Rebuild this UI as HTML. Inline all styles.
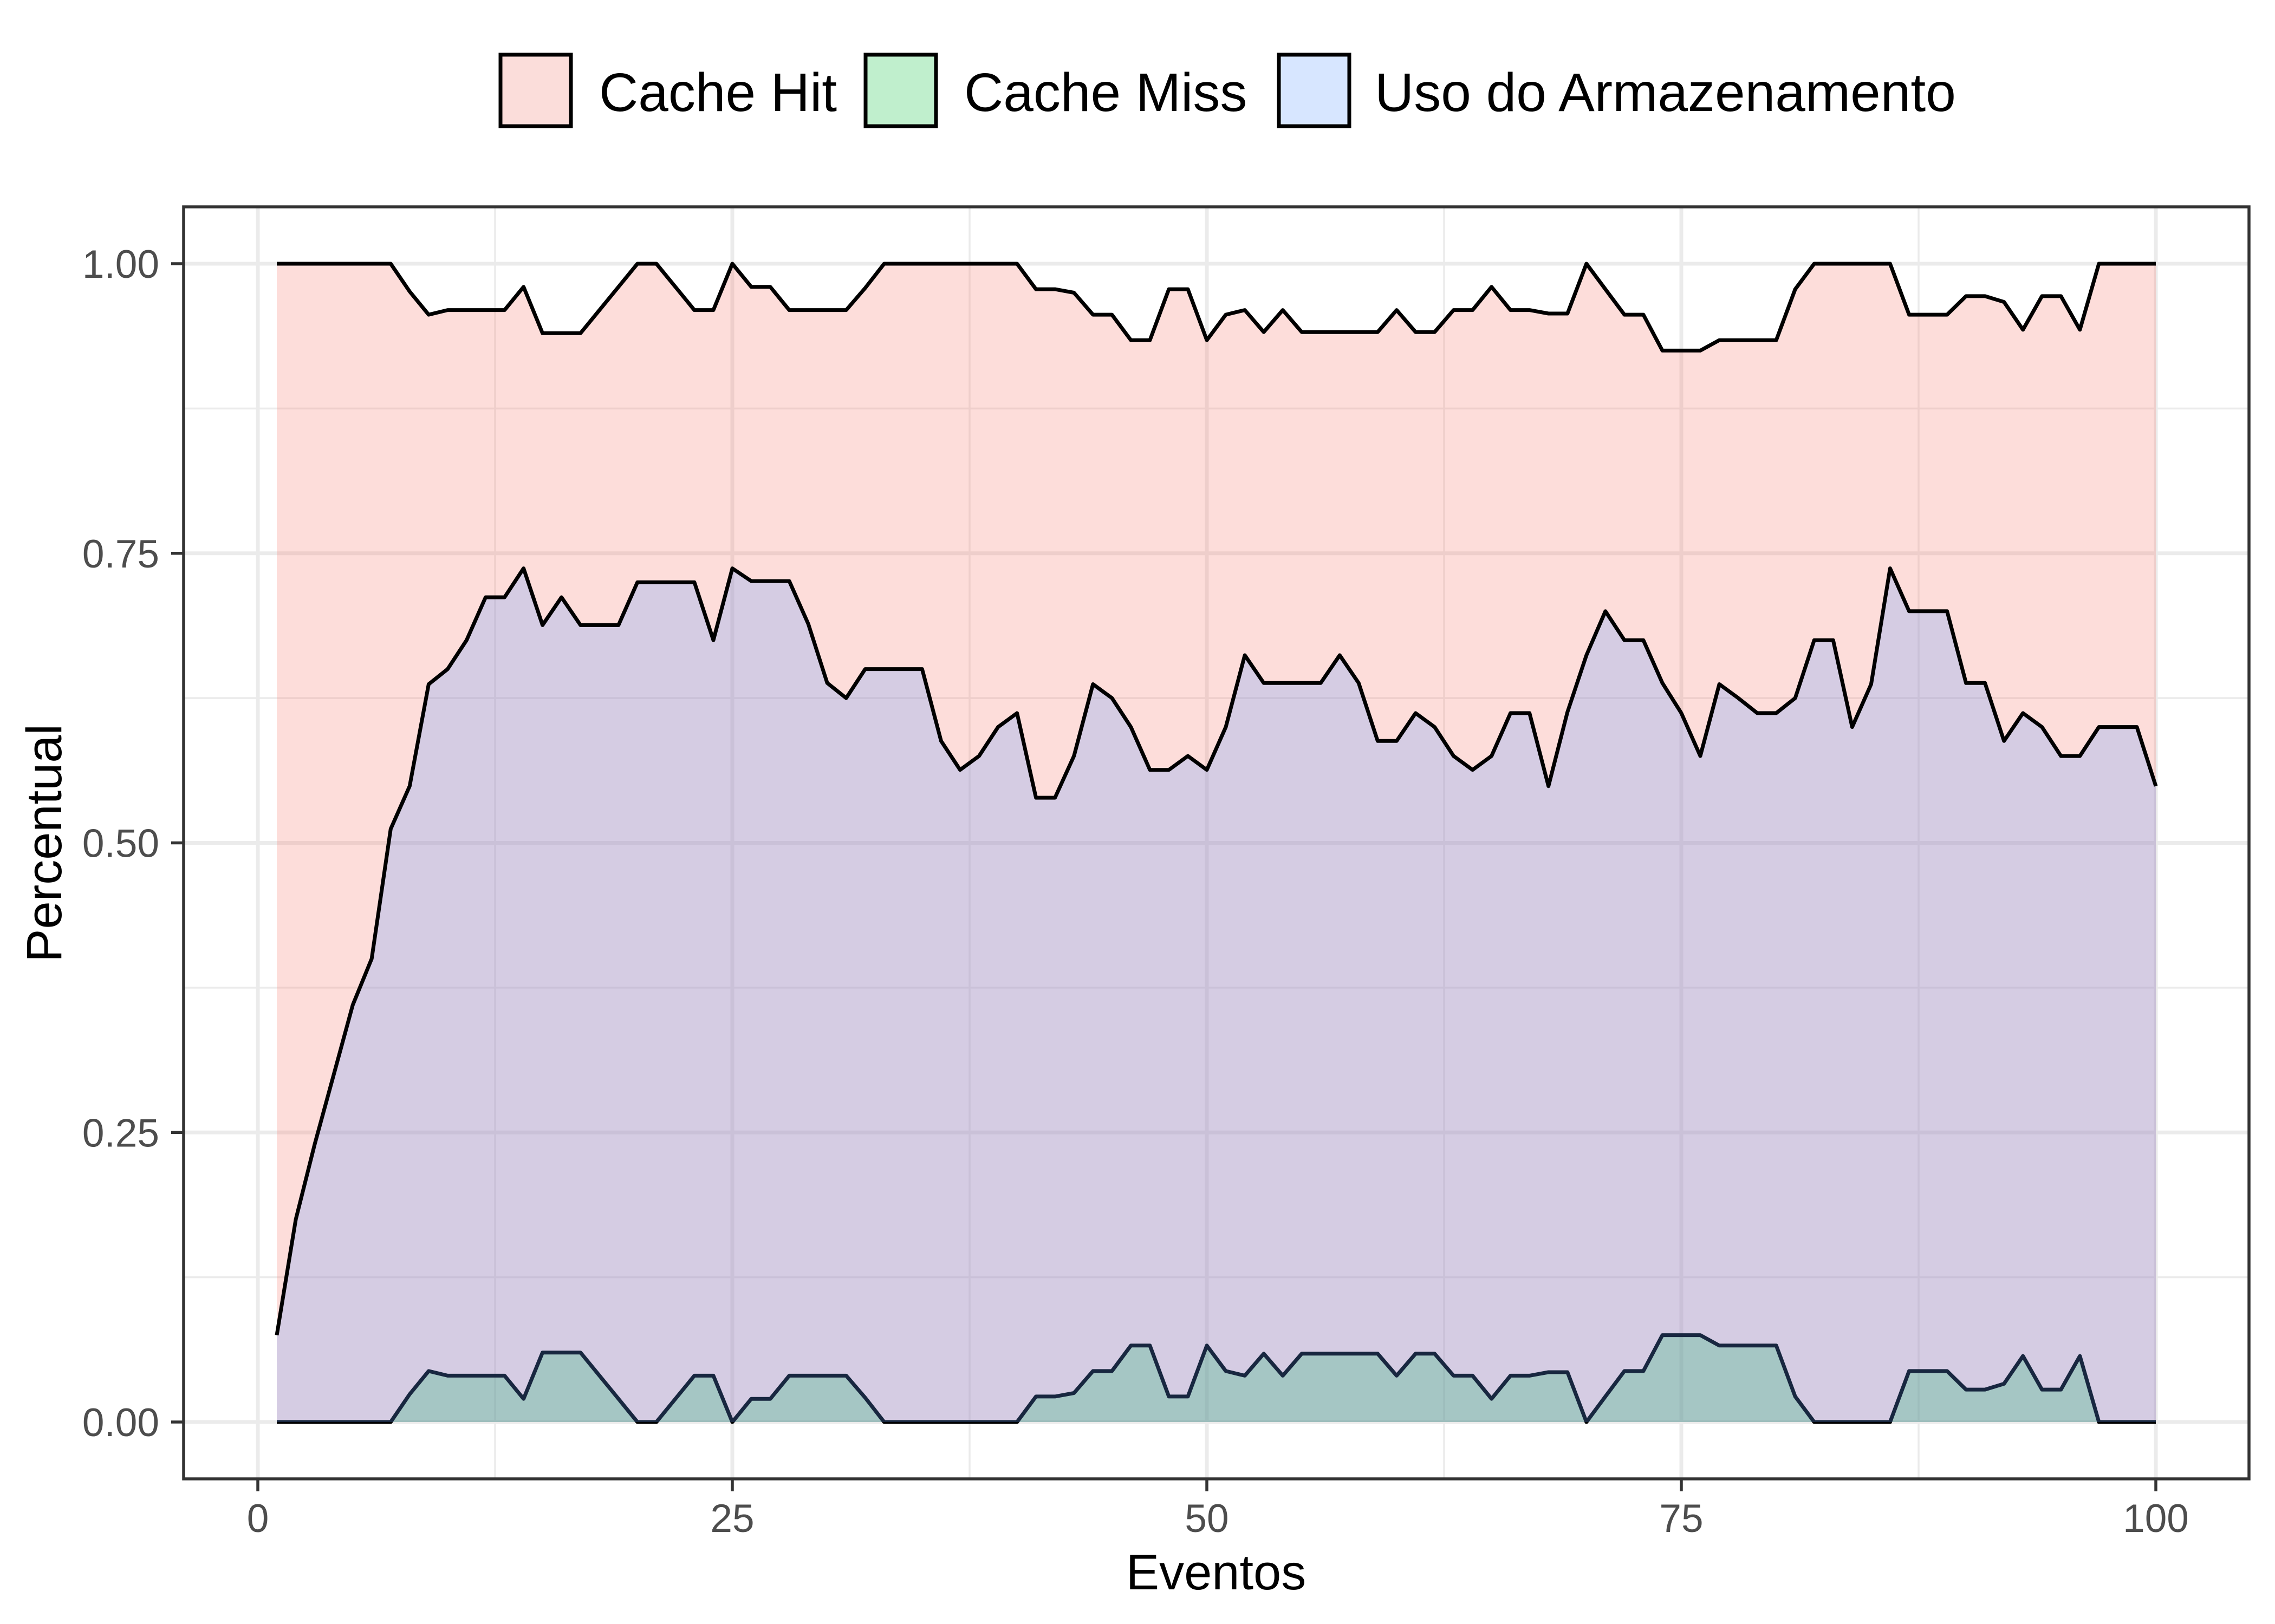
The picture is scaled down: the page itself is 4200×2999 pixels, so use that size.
<!DOCTYPE html>
<html><head><meta charset="utf-8"><style>
html,body{margin:0;padding:0;background:#fff}
svg{display:block}
text{font-family:"Liberation Sans",Arial,sans-serif}
</style></head>
<body>
<svg id="chart" width="4200" height="2999" viewBox="0 0 4200 2999" xmlns="http://www.w3.org/2000/svg">
<rect x="0" y="0" width="4200" height="2999" fill="#fff"/>
<g id="grid"></g>
<g id="areas"></g>
<rect x="339" y="382" width="3813" height="2349" fill="none" stroke="#333" stroke-width="5.5"/>
<g id="axes"></g>
<text x="2245" y="2935" font-size="92" text-anchor="middle" fill="#000">Eventos</text>
<text transform="translate(113,1557) rotate(-90)" font-size="92" text-anchor="middle" fill="#000">Percentual</text>
<g>
  <g>
    <rect x="924" y="101" width="130" height="132" fill="#FBDDDA" stroke="#000" stroke-width="7"/>
    <text x="1106" y="205" font-size="100" fill="#000">Cache Hit</text>
  </g>
  <g>
    <rect x="1598" y="101" width="130" height="132" fill="#C0EFCD" stroke="#000" stroke-width="7"/>
    <text x="1780" y="205" font-size="100" fill="#000">Cache Miss</text>
  </g>
  <g>
    <rect x="2361" y="101" width="130" height="132" fill="#D7E6FF" stroke="#000" stroke-width="7"/>
    <text x="2538" y="205" font-size="100" fill="#000">Uso do Armazenamento</text>
  </g>
</g>
</svg>
<script>
const events = Array.from({length:100},(_,i)=>i+1);
const cacheHit = [1,1,1,1,1,1,1,0.976,0.956,0.96,0.96,0.96,0.96,0.98,0.94,0.94,0.94,0.96,0.98,1,
1,0.98,0.96,0.96,1,0.98,0.98,0.96,0.96,0.96,0.96,0.979,1,1,1,1,1,1,1,1,
0.978,0.978,0.975,0.956,0.956,0.934,0.934,0.978,0.978,0.934,0.956,0.96,0.941,0.96,0.941,0.941,0.941,0.941,0.941,0.96,
0.941,0.941,0.96,0.96,0.98,0.96,0.96,0.957,0.957,1,0.978,0.956,0.956,0.925,0.925,0.925,0.934,0.934,0.934,0.934,
0.978,1,1,1,1,1,0.956,0.956,0.956,0.972,0.972,0.967,0.943,0.972,0.972,0.943,1,1,1,1];
const cacheMiss = [0,0,0,0,0,0,0,0.024,0.044,0.04,0.04,0.04,0.04,0.02,0.06,0.06,0.06,0.04,0.02,0,
0,0.02,0.04,0.04,0,0.02,0.02,0.04,0.04,0.04,0.04,0.021,0,0,0,0,0,0,0,0,
0.022,0.022,0.025,0.044,0.044,0.066,0.066,0.022,0.022,0.066,0.044,0.04,0.059,0.04,0.059,0.059,0.059,0.059,0.059,0.04,
0.059,0.059,0.04,0.04,0.02,0.04,0.04,0.043,0.043,0,0.022,0.044,0.044,0.075,0.075,0.075,0.066,0.066,0.066,0.066,
0.022,0,0,0,0,0,0.044,0.044,0.044,0.028,0.028,0.033,0.057,0.028,0.028,0.057,0,0,0,0];
const storageUse = [0.075,0.175,0.24,0.30,0.36,0.40,0.512,0.549,0.637,0.65,0.675,0.712,0.712,0.737,0.688,0.712,0.688,0.688,0.688,0.725,
0.725,0.725,0.725,0.675,0.737,0.726,0.726,0.726,0.689,0.638,0.625,0.65,0.65,0.65,0.65,0.588,0.563,0.575,0.6,0.612,
0.539,0.539,0.575,0.637,0.625,0.6,0.563,0.563,0.575,0.563,0.6,0.662,0.638,0.638,0.638,0.638,0.662,0.638,0.588,0.588,
0.612,0.6,0.575,0.563,0.575,0.612,0.612,0.549,0.613,0.662,0.7,0.675,0.675,0.638,0.612,0.575,0.637,0.625,0.612,0.612,
0.625,0.675,0.675,0.6,0.637,0.737,0.7,0.7,0.7,0.638,0.638,0.588,0.612,0.6,0.575,0.575,0.6,0.6,0.6,0.549];
const xTicks = [0,25,50,75,100];
const yTicks = [0,0.25,0.5,0.75,1];
const yTickLabels = ["0.00","0.25","0.50","0.75","1.00"];
const xMinor = [12.5,37.5,62.5,87.5];
const yMinor = [0.125,0.375,0.625,0.875];

const NS="http://www.w3.org/2000/svg";
const PL=339, PR=4152, PT=382, PB=2731;
function X(v){return 476 + v*35.04;}
function Y(v){return 2626 - v*2139;}
function mk(tag,attrs,parent){const e=document.createElementNS(NS,tag);for(const k in attrs)e.setAttribute(k,attrs[k]);parent.appendChild(e);return e;}

const grid=document.getElementById('grid');
mk('rect',{x:PL,y:PT,width:PR-PL,height:PB-PT,fill:'#fff'},grid);
xMinor.forEach(v=>{const l=mk('line',{x1:X(v),x2:X(v),y1:PT,y2:PB,stroke:'#EBEBEB','stroke-width':3.5},grid);

});
yMinor.forEach(v=>{const l=mk('line',{x1:PL,x2:PR,y1:Y(v),y2:Y(v),stroke:'#EBEBEB','stroke-width':3.5},grid);

});
xTicks.forEach(v=>{const l=mk('line',{x1:X(v),x2:X(v),y1:PT,y2:PB,stroke:'#EBEBEB','stroke-width':7},grid);

});
yTicks.forEach(v=>{const l=mk('line',{x1:PL,x2:PR,y1:Y(v),y2:Y(v),stroke:'#EBEBEB','stroke-width':7},grid);

});

const areas=document.getElementById('areas');
function drawSeries(vals,color,name){
  let d='M'+X(events[0])+','+Y(0);
  let ld='';
  vals.forEach((v,i)=>{d+=' L'+X(events[i]).toFixed(1)+','+Y(v).toFixed(1);ld+=(i?' L':'M')+X(events[i]).toFixed(1)+','+Y(v).toFixed(1);});
  d+=' L'+X(events[events.length-1])+','+Y(0)+' Z';
  const a=mk('path',{d:d,fill:color,'fill-opacity':0.25,stroke:'none'},areas);
  
  
  const l=mk('path',{d:ld,fill:'none',stroke:'#000','stroke-width':7,'stroke-linejoin':'round'},areas);
  
  
}
drawSeries(cacheHit,'#F8766D','cache-hit');
drawSeries(cacheMiss,'#00BA38','cache-miss');
drawSeries(storageUse,'#619CFF','storage-use');

const axes=document.getElementById('axes');
xTicks.forEach(v=>{
  const t=mk('line',{x1:X(v),x2:X(v),y1:PB,y2:PB+23,stroke:'#333','stroke-width':5.5},axes);
  
  
  const tx=mk('text',{x:X(v),y:2829,'font-size':73,'text-anchor':'middle',fill:'#4D4D4D'},axes);
  tx.textContent=String(v);
  
  
});
yTicks.forEach((v,i)=>{
  const t=mk('line',{x1:PL-23,x2:PL,y1:Y(v),y2:Y(v),stroke:'#333','stroke-width':5.5},axes);
  
  
  const tx=mk('text',{x:294,y:Y(v)+26,'font-size':73,'text-anchor':'end',fill:'#4D4D4D'},axes);
  tx.textContent=yTickLabels[i];
  
  
});
</script>
</body></html>
